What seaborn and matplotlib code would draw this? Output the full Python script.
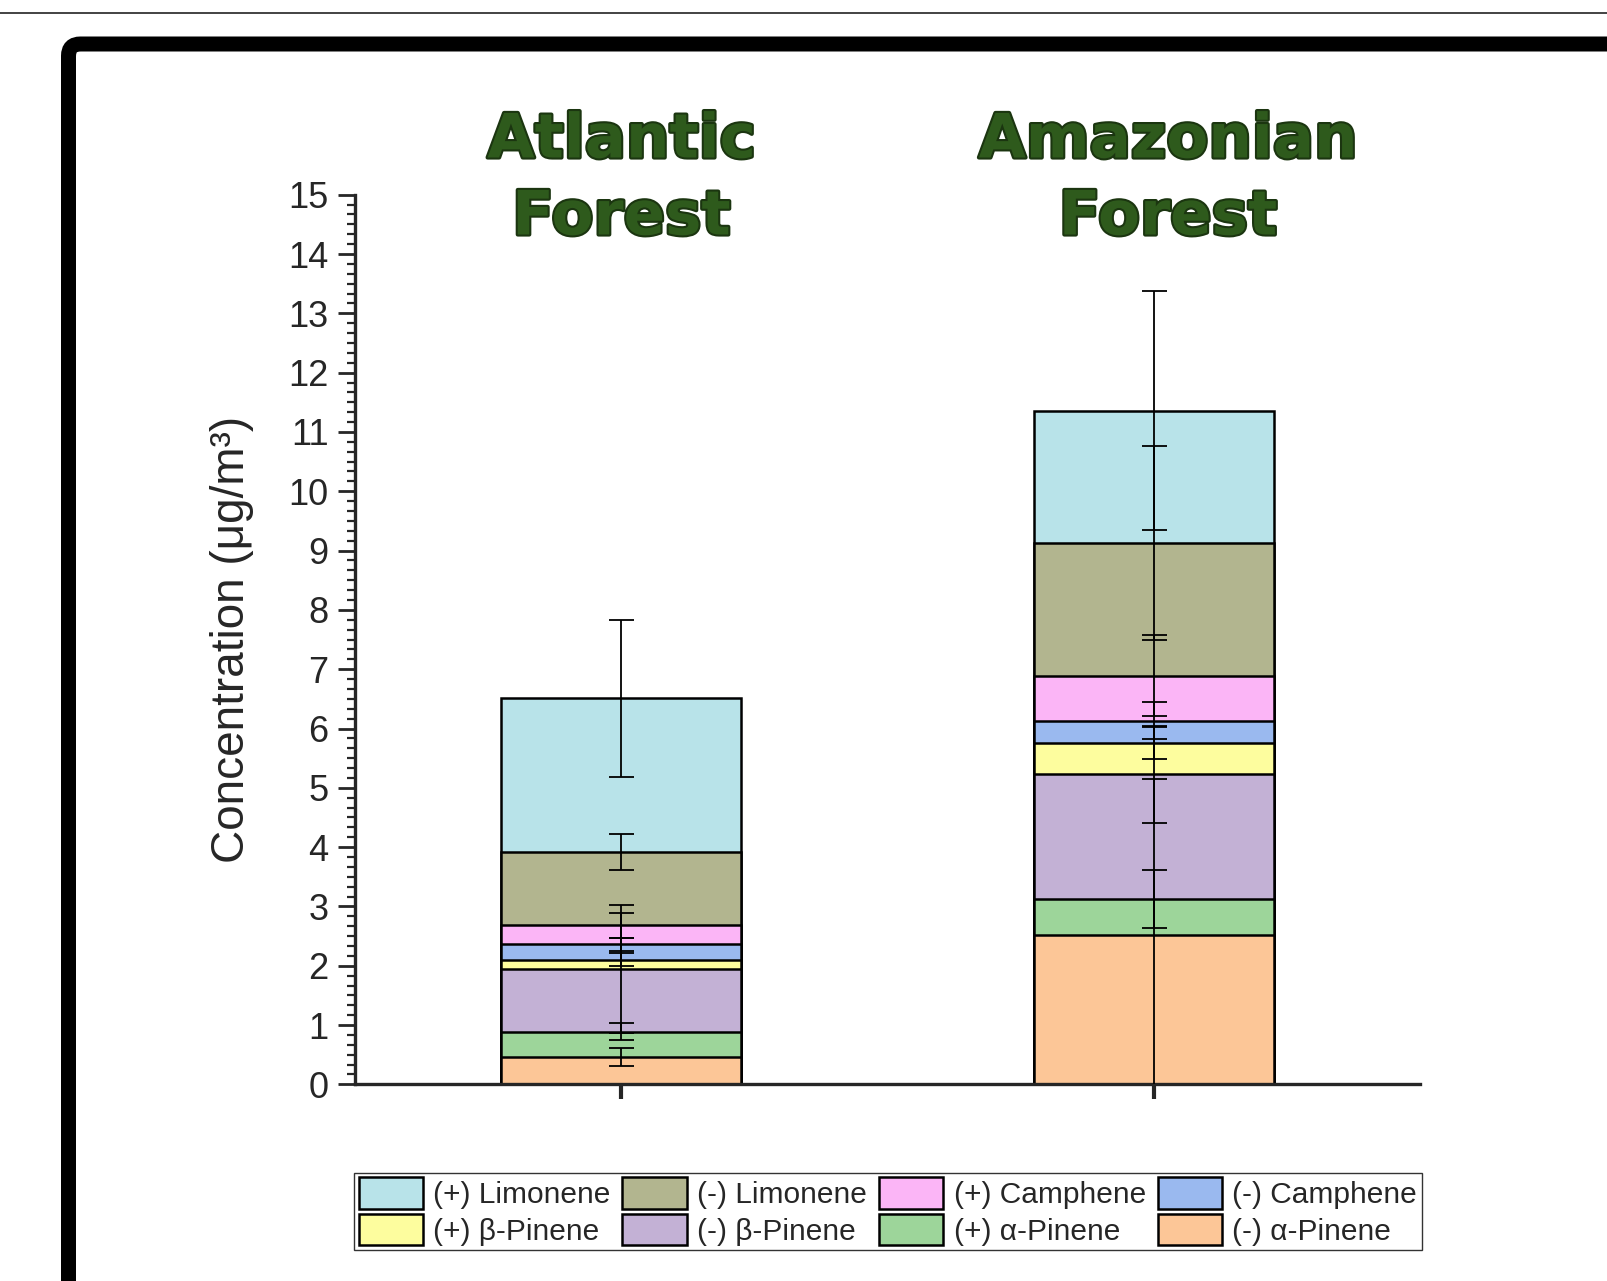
import numpy as np
import pandas as pd
import matplotlib
matplotlib.use("Agg")
import matplotlib.pyplot as plt
import seaborn as sns
from matplotlib.patches import Patch, FancyBboxPatch
from matplotlib.lines import Line2D
from matplotlib.ticker import AutoMinorLocator
import matplotlib.patheffects as pe

# ---- data -----------------------------------------------------------------
forests = ["Atlantic\nForest", "Amazonian\nForest"]
compounds = ["(-) α-Pinene", "(+) α-Pinene", "(-) β-Pinene", "(+) β-Pinene",
             "(-) Camphene", "(+) Camphene", "(-) Limonene", "(+) Limonene"]
atlantic_conc = [0.46, 0.43, 1.06, 0.15, 0.26, 0.32, 1.24, 2.59]
amazonian_conc = [2.51, 0.62, 2.10, 0.53, 0.37, 0.76, 2.24, 2.23]
atlantic_err = [0.145, 0.14, 1.08, 0.11, 0.115, 0.205, 0.30, 1.32]
amazonian_err = [2.645, 0.49, 0.82, 0.27, 0.315, 0.68, 1.63, 2.01]
colors = ["#FCC697", "#9DD59A", "#C3B1D5", "#FDFD9E",
          "#9AB9EF", "#FBB5F6", "#B2B58F", "#B8E3E9"]
yticks = list(range(0, 16))

# long-form table with stacked tops
rows = []
for forest, conc, err in [(forests[0], atlantic_conc, atlantic_err),
                          (forests[1], amazonian_conc, amazonian_err)]:
    tops = np.cumsum(conc)
    for comp, c, t, e in zip(compounds, conc, tops, err):
        rows.append(dict(forest=forest, compound=comp, value=c, top=t, err=e))
df = pd.DataFrame(rows)

# ---- style ----------------------------------------------------------------
sns.set_style("ticks")
plt.rcParams["font.family"] = ["Liberation Sans", "DejaVu Sans"]

fig = plt.figure(figsize=(16.07, 12.81), dpi=100)
ax = fig.add_axes([0.2209, 0.1535, 0.6630, 0.6945])

# stacked bars: draw cumulative totals from the top layer down
for comp, col in reversed(list(zip(compounds, colors))):
    sub = df[df["compound"] == comp]
    sns.barplot(data=sub, x="forest", y="top", order=forests, color=col,
                saturation=1, edgecolor="black", linewidth=1.8, width=0.45,
                errorbar=None, ax=ax, zorder=2)

# error bars at the top of every segment
xpos = np.arange(len(forests))
for comp in compounds:
    sub = df[df["compound"] == comp].set_index("forest").loc[forests]
    ax.errorbar(xpos, sub["top"].values, yerr=sub["err"].values, fmt="none",
                ecolor="black", elinewidth=1.3, capsize=9, capthick=1.3,
                zorder=5)

ax.set_xlim(-0.5, 1.5)
ax.set_ylim(0, 15)
ax.set_yticks(yticks)
ax.yaxis.set_minor_locator(AutoMinorLocator(6))
ax.set_xticks(xpos)
ax.set_xticklabels([])
ax.set_xlabel("")
ax.set_ylabel("Concentration (μg/m³)", fontsize=33, labelpad=25)
ax.tick_params(axis="y", which="major", direction="out", length=12,
               width=2, labelsize=26, pad=7)
ax.tick_params(axis="y", which="minor", direction="out", length=6, width=1.6)
ax.tick_params(axis="x", which="major", direction="out", length=11, width=3)
sns.despine(ax=ax)
for side in ("left", "bottom"):
    ax.spines[side].set_linewidth(2.4)
ax.set_facecolor("none")

# forest headings above the bars, one line at a time
heading_y = [1 - 141 / 1281, 1 - 218 / 1281]
for i, name in enumerate(forests):
    for line, yy in zip(name.split("\n"), heading_y):
        ax.annotate(line, xy=(i + 0.026 * i, yy),
                    xycoords=("data", "figure fraction"), ha="center",
                    va="center", fontsize=44, fontweight="bold",
                    family=["DejaVu Sans"], color="#2E5A1C",
                    path_effects=[pe.withStroke(linewidth=3,
                                                foreground="#1B3510")])

# legend
leg_order = [7, 3, 6, 2, 5, 1, 4, 0]
handles = [Patch(facecolor=colors[k], edgecolor="black", linewidth=1.8,
                 label=compounds[k]) for k in leg_order]
fig.legend(handles=handles, loc="center", bbox_to_anchor=(0.5525, 0.0543),
           ncol=4, fontsize=21.5, frameon=True, fancybox=False,
           edgecolor="#333333", framealpha=1, handlelength=2.15,
           handleheight=1.25, handletextpad=0.35, columnspacing=0.4,
           labelspacing=0.15, borderpad=0.15, borderaxespad=0)

# page decorations: thin rule and heavy rounded frame
fig.add_artist(Line2D([0, 1], [1 - 12.5 / 1281] * 2, color="#222222",
                      linewidth=1.2, transform=fig.transFigure))
frame = FancyBboxPatch((0.685, -1.0), 17.0, 12.37 + 1.0,
                       boxstyle="round,pad=0,rounding_size=0.12",
                       facecolor="none", edgecolor="black", linewidth=10.8,
                       transform=fig.dpi_scale_trans)
fig.add_artist(frame)

fig.savefig("out.png", dpi=100, facecolor="white")
